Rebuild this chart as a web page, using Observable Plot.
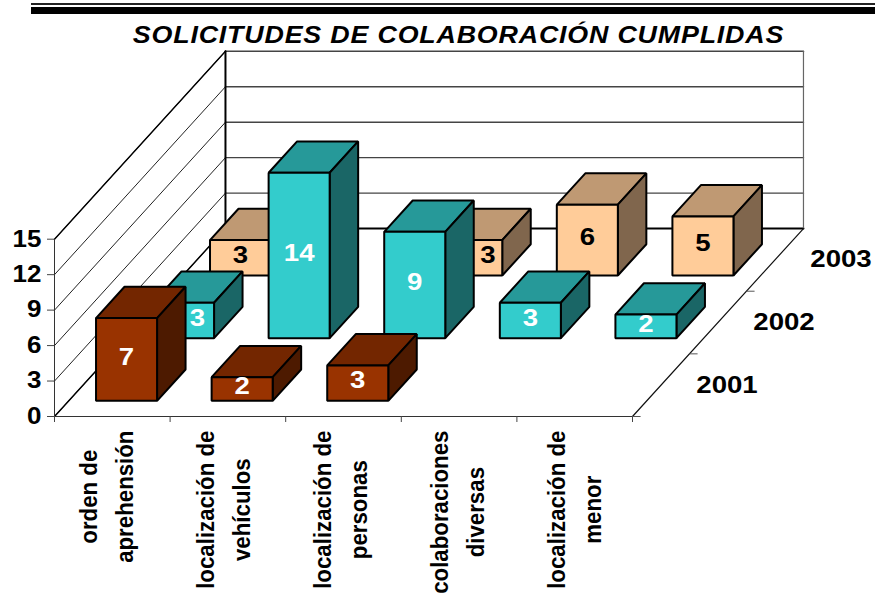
<!DOCTYPE html>
<html lang="es">
<head>
<meta charset="utf-8">
<script src="https://cdn.jsdelivr.net/npm/d3@7"></script>
<script src="https://cdn.jsdelivr.net/npm/@observablehq/plot@0.6"></script>
<style>
html,body{margin:0;padding:0;background:#fff;}
#page{width:875px;height:594px;overflow:hidden;position:relative;}
#head{height:48px;position:relative;}
#r1{position:absolute;left:31px;right:0;top:3px;height:2px;background:#222;}
#r2{position:absolute;left:31px;right:0;top:7px;height:7px;background:#000;}
#title{position:absolute;left:0;width:917px;top:20px;text-align:center;font:italic 700 24.5px "Liberation Sans",Arial,sans-serif;letter-spacing:.75px;color:#000;white-space:nowrap;line-height:30px;transform:scaleX(1.094);}
svg{display:block;}
</style>
</head>
<body>
<div id="page">
  <div id="head"><div id="r1"></div><div id="r2"></div><div id="title"></div></div>
  <div id="chart"></div>
</div>
<script>
const titleText = "SOLICITUDES DE COLABORACIÓN CUMPLIDAS";
const categories = ["orden de\naprehensión","localización de\nvehículos","localización de\npersonas","colaboraciones\ndiversas","localización de\nmenor"];
const years = ["2001","2002","2003"];
const valueTicks = [0,3,6,9,12,15];
const values2001 = [7,2,3,null,null];
const values2002 = [3,14,9,3,2];
const values2003 = [3,null,3,6,5];
const seriesValues = [values2001,values2002,values2003];
const frontColors = ["#993300","#33CCCC","#FFCC99"];
const topColors   = ["#732600","#269999","#BF9973"];
const sideColors  = ["#4D1A00","#1A6666","#80664D"];

// oblique projection: one depth row shifts a point by these amounts, in scale units
const SKEW_X = 0.493;   // categories per row
const SKEW_Y = 5.3;     // values per row
const BAR_GAP_X = 0.236, BAR_GAP_Z = 0.25;
const proj = (c, r, v) => ({x: c + r*SKEW_X, y: v + r*SKEW_Y});
const rows = years.length, maxV = 15, nCat = categories.length;

const HEAD = 48, W = 875, H = 546;
const FONT = '"Liberation Sans",Arial,sans-serif';

document.getElementById("title").textContent = titleText;

// two labels were slid sideways in the original to clear the bars in front
const labelNudge = {"1-0":0.12,"2-2":0.14};

// bars, painted back to front
const faces = [], labels = [];
for (let r = rows-1; r >= 0; r--) {
  seriesValues[r].forEach((v,c) => {
    if (v == null) return;
    const c0=c+BAR_GAP_X, c1=c+1-BAR_GAP_X, z0=r+BAR_GAP_Z, z1=r+1-BAR_GAP_Z;
    const add=(id,color,pts)=>pts.forEach(p=>faces.push({id,color,...proj(...p)}));
    const k=`${r}-${c}`;
    add(k+"t",topColors[r],[[c0,z0,v],[c1,z0,v],[c1,z1,v],[c0,z1,v]]);
    add(k+"s",sideColors[r],[[c1,z0,0],[c1,z1,0],[c1,z1,v],[c1,z0,v]]);
    add(k+"f",frontColors[r],[[c0,z0,0],[c1,z0,0],[c1,z0,v],[c0,z0,v]]);
    labels.push({...proj((c0+c1)/2+(labelNudge[k]||0),z0,v/2),text:String(v),r,c});
  });
}

const slant = valueTicks.flatMap(v => [proj(0,0,v),proj(0,rows,v)].map(p=>({...p,id:v})));
const back = valueTicks.filter(v=>v>0).flatMap(v => [proj(0,rows,v),proj(nCat,rows,v)].map(p=>({...p,id:v})));
const seg = (...pts) => pts.map(p=>proj(...p));
const depthTicks = d3.range(rows).map(r=>proj(nCat,r,0));

const ctx = document.createElement("canvas").getContext("2d");
const catFont = 23, catStretch = 0.968;
ctx.font = `700 ${catFont}px "Liberation Sans"`;
const catDy = categories.map(t => 14 + catStretch*Math.max(...t.split("\n").map(s=>ctx.measureText(s).width))/2);

const plot = Plot.plot({
  width:W, height:H,
  marginLeft:54, marginRight:W-632, marginTop:10, marginBottom:H-(416-HEAD),
  style:{background:"#fff",fontFamily:FONT,overflow:"visible"},
  x:{type:"linear",domain:[0,nCat],range:[54,632],axis:null},
  y:{type:"linear",domain:[0,maxV],range:[416-HEAD,416-HEAD-maxV*11.82],axis:null},
  color:{type:"identity"},
  marks:[
    Plot.line(slant,{x:"x",y:"y",z:"id",stroke:"#222",strokeWidth:1}),
    Plot.line(back,{x:"x",y:"y",z:"id",stroke:"#444",strokeWidth:1.4}),
    Plot.line(seg([0,rows,0],[0,rows,maxV]),{x:"x",y:"y",stroke:"#000",strokeWidth:2}),
    Plot.line(seg([0,rows,0],[nCat,rows,0]),{x:"x",y:"y",stroke:"#000",strokeWidth:2}),
    Plot.line(seg([nCat,rows,0],[nCat,rows,maxV]),{x:"x",y:"y",stroke:"#666",strokeWidth:1.2}),
    Plot.line(seg([0,0,0],[0,rows,0]),{x:"x",y:"y",stroke:"#000",strokeWidth:1.5}),
    Plot.line(seg([0,0,maxV],[0,rows,maxV]),{x:"x",y:"y",stroke:"#000",strokeWidth:1.4}),
    Plot.line(seg([nCat,0,0],[nCat,rows,0]),{x:"x",y:"y",stroke:"#111",strokeWidth:1.2}),
    Plot.line(seg([0,0,0],[nCat,0,0]),{x:"x",y:"y",stroke:"#333",strokeWidth:1.2}),
    Plot.line(seg([0,0,0],[0,0,maxV]),{x:"x",y:"y",stroke:"#333",strokeWidth:1}),
    Plot.axisY({ticks:valueTicks,anchor:"left",tickSize:7,tickPadding:6,stroke:"#444",fontSize:23,fontWeight:700,fill:"#000",label:null,tickFormat:d=>String(d)}),
    Plot.axisX({ticks:d3.range(nCat+1),anchor:"bottom",tickSize:6,stroke:"#444",tickFormat:()=>"",label:null}),
    Plot.link(depthTicks,{x1:"x",y1:"y",x2:d=>d.x+0.07,y2:"y",stroke:"#555",strokeWidth:1}),
    Plot.line(faces,{x:"x",y:"y",z:"id",fill:"color",stroke:"#000",strokeWidth:2,curve:"linear-closed",strokeLinejoin:"miter"}),
    Plot.text(labels,{x:"x",y:"y",text:"text",dy:-2,fontSize:23,fontWeight:700,fill:d=>d.r===2?"#000":"#fff"}),
    Plot.text(years.map((t,r)=>({t,...proj(nCat,r+.5,0)})),{x:"x",y:"y",text:"t",dx:66,fontSize:23,fontWeight:700,fill:"#000"}),
    ...categories.map((t,i)=>Plot.text([t],{x:()=>i+.5,y:()=>0,text:d=>d,rotate:-90,textAnchor:"middle",dy:catDy[i],dx:-8.5+1.4*i,fontSize:catFont,fontWeight:700,fill:"#000",lineHeight:36/catFont}))
  ]
});
// the reference's glyphs are drawn at a different width than the font: scale along the reading direction
const stretch = (el,k) => el.setAttribute("transform",(el.getAttribute("transform")||"")+` scale(${k},1)`);
plot.querySelectorAll('g[aria-label="y-axis tick label"] text').forEach(el=>stretch(el,1.13));
const textGroups = [...plot.querySelectorAll('g[aria-label="text"]')];
textGroups.forEach((g,i)=>g.querySelectorAll("text").forEach(el=>stretch(el,i<2?1.2:catStretch)));
document.getElementById("chart").appendChild(plot);
</script>
</body>
</html>
